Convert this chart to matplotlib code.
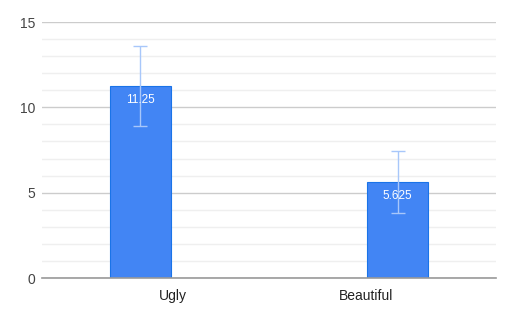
import matplotlib
matplotlib.use("Agg")
import matplotlib.pyplot as plt
import numpy as np

categories = ["Ugly", "Beautiful"]
values = [11.25, 5.625]
errors = [2.33, 1.82]
value_labels = ["11.25", "5.625"]

plt.rcParams['font.family'] = ['Liberation Sans', 'DejaVu Sans']

fig = plt.figure(figsize=(5.12, 3.17), dpi=100)
ax = fig.add_axes([42/512, 1 - 278/317, (496-42)/512, (278-22)/317])

x = np.arange(len(categories))
ax.bar(x, values, width=0.237, color="#4285f4", edgecolor="#1a73e8", linewidth=0.8, zorder=3)
ax.errorbar(x, values, yerr=errors, fmt="none", ecolor="#a8c7fa", elinewidth=1.0,
            capsize=5, capthick=1.0, zorder=4)
for xi, v, lab in zip(x, values, value_labels):
    ax.annotate(lab, (xi, v), xytext=(0, -6), textcoords="offset points",
                ha="center", va="top", color="white", fontsize=8.5, zorder=5)

ax.set_xlim(-0.383, 1.383)
ax.set_ylim(0, 15)
ax.set_yticks([0, 5, 10, 15])
ax.set_yticks(np.arange(0, 16, 1), minor=True)
ax.yaxis.grid(True, which="major", color="#cccccc", linewidth=1.0, zorder=0)
ax.yaxis.grid(True, which="minor", color="#efefef", linewidth=1.0, zorder=0)
ax.tick_params(axis="y", which="both", length=0, pad=5, labelsize=10, labelcolor="#444444")
ax.set_xticks([0.126, 0.877])
ax.set_xticklabels(categories)
ax.tick_params(axis="x", length=0, pad=8, labelsize=10, labelcolor="#222222")
for s in ["top", "right", "left"]:
    ax.spines[s].set_visible(False)
ax.spines["bottom"].set_color("#999999")
ax.spines["bottom"].set_linewidth(1.2)
ax.spines["bottom"].set_zorder(6)

fig.savefig("out.png", dpi=100)
